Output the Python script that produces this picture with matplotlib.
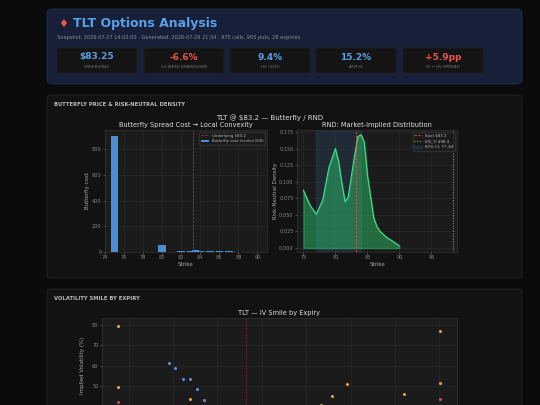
import matplotlib
matplotlib.use("Agg")
import matplotlib.pyplot as plt
from matplotlib.patches import FancyBboxPatch

# ---- data ----
card_values = ["$83.25", "-6.6%", "9.4%", "15.2%", "+5.9pp"]
card_labels = ["UNDERLYING", "52-WEEK DRAWDOWN", "HV (21D)", "ATM IV", "IV \u2212 HV SPREAD"]
card_colors = ["#5aa0e8", "#e8554a", "#5aa0e8", "#5aa0e8", "#e8554a"]

bf_strikes = [75, 78, 80, 81, 82, 83, 83.5, 84, 85, 86, 87, 88, 89]
bf_cost = [900, 3, 55, 3, 6, 8, 15, 10, 8, 5, 4, 3, 2]

rnd_k = [75, 76, 77, 78, 79, 80, 80.5, 81, 81.5, 82, 83, 83.5, 84, 84.5, 85, 86, 86.5, 87, 88, 89, 90]
rnd_d = [0.087, 0.065, 0.051, 0.072, 0.122, 0.150, 0.130, 0.098, 0.070, 0.077, 0.140, 0.168, 0.171,
         0.160, 0.110, 0.045, 0.032, 0.025, 0.016, 0.010, 0.003]
spot = 83.2
eis = 98.4
ci = (77, 84)

iv_blue_k = [74.5, 75.2, 76.1, 76.9, 77.7, 78.5]
iv_blue_v = [61.4, 58.8, 53.7, 53.4, 48.5, 43.4]
iv_orange_k = [68.8, 68.8, 76.9, 91.7, 92.9, 94.6, 101.0, 105.1, 105.1]
iv_orange_v = [79.7, 49.6, 43.5, 41.0, 45.4, 51.0, 46.4, 76.9, 51.4]
iv_red_k = [68.8, 105.1]
iv_red_v = [42.0, 43.6]

W, H = 540, 405
fig = plt.figure(figsize=(5.4, 4.05), dpi=100, facecolor="#0b0b0b")

def box(x0, y0, x1, y1, fc, ec="#2a2a2a", r=4, lw=0.6):
    p = FancyBboxPatch((x0 / W, 1 - y1 / H), (x1 - x0) / W, (y1 - y0) / H,
                       boxstyle=f"round,pad=0,rounding_size={r/W}", fc=fc, ec=ec, lw=lw,
                       transform=fig.transFigure, zorder=-5)
    fig.patches.append(p)

def txt(x, y, s, **kw):
    fig.text(x / W, 1 - y / H, s, **kw)

def ax_at(x0, y0, x1, y1):
    return fig.add_axes([x0 / W, 1 - y1 / H, (x1 - x0) / W, (y1 - y0) / H])

# header
box(47, 9, 522, 84, "#172038", ec="#22304f", r=6)
txt(73, 24, "TLT Options Analysis", color="#5aa0e8", fontsize=9, fontweight="bold", va="center")
txt(58, 24, "\u2666", color="#e8554a", fontsize=8, va="center")
txt(57, 37, "Snapshot: 2026-07-27 14:02:00 \u00b7 Generated: 2026-07-29 21:34 \u00b7 975 calls, 905 puts, 28 expiries",
    color="#8a8f99", fontsize=3.6, va="center")
cx = [57, 144, 230, 316, 403]
for x, v, l, c in zip(cx, card_values, card_labels, card_colors):
    box(x, 48, x + 80, 73, "#141414", ec="#1e1e1e", r=2)
    txt(x + 40, 57, v, color=c, fontsize=6.5, fontweight="bold", ha="center", va="center")
    txt(x + 40, 67, l, color="#777", fontsize=3, ha="center", va="center")

# sections
box(47, 95, 522, 278, "#121212", ec="#262626", r=4)
txt(54, 105, "BUTTERFLY PRICE & RISK-NEUTRAL DENSITY", color="#bbb", fontsize=3.8, fontweight="bold", va="center")
box(47, 289, 522, 420, "#121212", ec="#262626", r=4)
txt(54, 299, "VOLATILITY SMILE BY EXPIRY", color="#bbb", fontsize=3.8, fontweight="bold", va="center")
txt(270, 118, "TLT @ $83.2 \u2014 Butterfly / RND", color="#ddd", fontsize=5, ha="center", va="center")

def style(ax):
    ax.set_facecolor("#1b1b1b")
    for s in ax.spines.values():
        s.set_color("#333")
        s.set_linewidth(0.5)
    ax.tick_params(colors="#888", labelsize=3.6, length=1.5, width=0.4, pad=1)
    ax.grid(True, color="#2a2a2a", lw=0.4)
    ax.set_axisbelow(True)

# butterfly
a1 = ax_at(105, 130, 267, 252)
style(a1)
a1.bar(bf_strikes, bf_cost, width=0.8, color="#4a8fd6", label="Butterfly cost (cents\u00d7100)")
a1.axvline(spot, color="#c0392b", ls="--", lw=0.5, label="Underlying $83.2")
a1.set_xlim(74, 91)
a1.set_ylim(0, 950)
a1.set_xticks(range(74, 91, 2))
a1.set_yticks([0, 200, 400, 600, 800])
a1.set_title("Butterfly Spread Cost \u2192 Local Convexity", color="#ddd", fontsize=4.8, pad=2)
a1.set_xlabel("Strike", color="#aaa", fontsize=4, labelpad=1)
a1.set_ylabel("Butterfly cost", color="#aaa", fontsize=4, labelpad=1)
a1.legend(loc="upper right", fontsize=2.8,
          facecolor="#1b1b1b", edgecolor="#333", labelcolor="#bbb")

# RND
a2 = ax_at(297, 130, 457, 252)
style(a2)
a2.axvspan(ci[0], ci[1], color="#2a4a6a", alpha=0.35, label="80% CI: 77\u201384")
a2.fill_between(rnd_k, rnd_d, color="#2ecc71", alpha=0.45)
a2.plot(rnd_k, rnd_d, color="#3ee08a", lw=0.8)
a2.axvline(spot, color="#e8554a", ls="--", lw=0.5, label="Spot $83.2")
a2.axvline(eis, color="#e8a23a", ls=":", lw=0.7, label="EIS_TI $98.4")
a2.set_xlim(74, 99)
a2.set_ylim(-0.006, 0.178)
a2.set_xticks([75, 80, 85, 90, 95])
a2.set_yticks([0, 0.025, 0.05, 0.075, 0.1, 0.125, 0.15, 0.175])
a2.set_title("RND: Market-Implied Distribution", color="#ddd", fontsize=4.8, pad=2)
a2.set_xlabel("Strike", color="#aaa", fontsize=4, labelpad=1)
a2.set_ylabel("Risk-Neutral Density", color="#aaa", fontsize=4, labelpad=1)
h, l = a2.get_legend_handles_labels()
a2.legend([h[1], h[2], h[0]], [l[1], l[2], l[0]], loc="upper right", fontsize=2.8,
          facecolor="#1b1b1b", edgecolor="#333", labelcolor="#bbb")

# IV smile
a3 = ax_at(102, 318, 457, 488)
style(a3)
a3.scatter(iv_blue_k, iv_blue_v, s=1.5, color="#5a8fd6")
a3.scatter(iv_orange_k, iv_orange_v, s=1.5, color="#e8a23a")
a3.scatter(iv_red_k, iv_red_v, s=1.5, color="#d6455a")
a3.axvline(spot, color="#a03040", ls=":", lw=0.6)
a3.set_xlim(67, 107)
a3.set_ylim(0, 83.5)
a3.set_yticks([50, 60, 70, 80])
a3.tick_params(axis="x", labelbottom=False)
a3.set_title("TLT \u2014 IV Smile by Expiry", color="#ddd", fontsize=4.8, pad=2)
a3.text(-0.055, 0.72, "Implied Volatility (%)", transform=a3.transAxes, rotation=90,
        color="#aaa", fontsize=4, ha="center", va="center")

fig.savefig("out.png", dpi=100, facecolor=fig.get_facecolor())
